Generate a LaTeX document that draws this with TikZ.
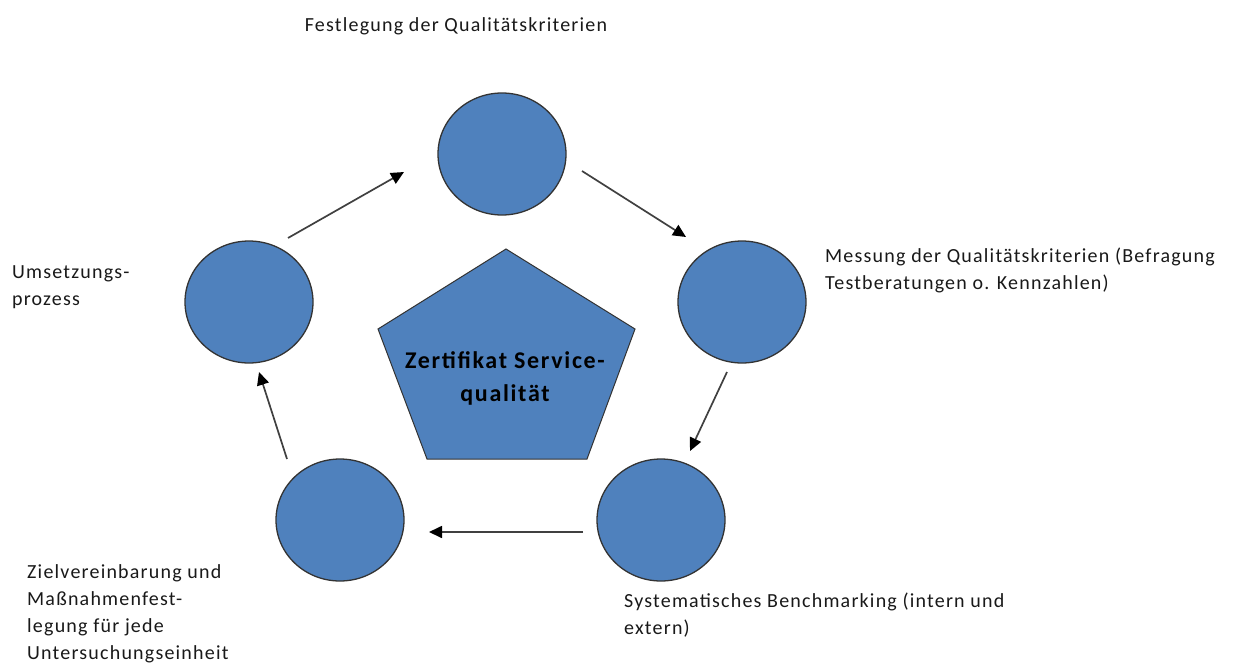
\documentclass[tikz,border=0pt]{standalone}
\usepackage{fontspec}
\setmainfont{Carlito}
\newfontfamily\labfont[LetterSpace=6]{Carlito}
\newfontfamily\certfont[LetterSpace=7]{Carlito}
\usetikzlibrary{shapes.geometric,arrows.meta}
\definecolor{fillblue}{HTML}{4F81BD}
\definecolor{edgegray}{HTML}{333333}
\definecolor{arrowgray}{HTML}{404040}
\tikzset{
  stage/.style={ellipse,draw=edgegray,line width=1.3pt,fill=fillblue,minimum width=128pt,minimum height=122pt,inner sep=0pt},
  flow/.style={draw=arrowgray,line width=1.7pt,-{Triangle[length=13pt,width=12pt,color=black]}},
  lab/.style={font=\labfont\fontsize{20}{27}\selectfont,text=black!90,inner sep=0pt,align=left},
}
\begin{document}
\begin{tikzpicture}[x=1pt,y=-1pt]
\useasboundingbox (0,0) rectangle (1234,664);
% stages
\node[stage] (top) at (502,154) {};
\node[stage] (right) at (742,302) {};
\node[stage] (bright) at (661,520) {};
\node[stage] (bleft) at (340,520) {};
\node[stage] (left) at (249,302) {};
% centre pentagon
\coordinate (p1) at (506,249);
\coordinate (p2) at (635,329);
\coordinate (p3) at (587,459);
\coordinate (p4) at (427,459);
\coordinate (p5) at (378,329);
\draw[draw=edgegray,line width=1pt,fill=fillblue] (p1) -- (p2) -- (p3) -- (p4) -- (p5) -- cycle;
\node[font=\certfont\bfseries\fontsize{24}{33}\selectfont,align=center,inner sep=0pt] (cert) at (505,378) {Zertifikat Service-\\qualität};
% arrows
\coordinate (a1s) at (582,171); \coordinate (a1e) at (686,237);
\coordinate (a2s) at (727,372); \coordinate (a2e) at (690,451);
\coordinate (a3s) at (583,532); \coordinate (a3e) at (429,532);
\coordinate (a4s) at (287,459); \coordinate (a4e) at (259,372);
\coordinate (a5s) at (288,238); \coordinate (a5e) at (404,172);
\draw[flow] (a1s) -- (a1e);
\draw[flow] (a2s) -- (a2e);
\draw[flow] (a3s) -- (a3e);
\draw[flow] (a4s) -- (a4e);
\draw[flow] (a5s) -- (a5e);
% labels
\node[lab,anchor=base] (ltop) at (456,31) {Festlegung der Qualitätskriterien};
\node[lab,anchor=north west] (lright) at (825,248) {Messung der Qualitätskriterien (Befragung\\Testberatungen o. Kennzahlen)};
\node[lab,anchor=north west] (lbright) at (624,593) {Systematisches Benchmarking (intern und\\extern)};
\node[lab,anchor=north west] (lbleft) at (27,564) {Zielvereinbarung und\\Maßnahmenfest-\\legung für jede\\Untersuchungseinheit};
\node[lab,anchor=north west] (lleft) at (12,265) {Umsetzungs-\\prozess};
\end{tikzpicture}
\end{document}
